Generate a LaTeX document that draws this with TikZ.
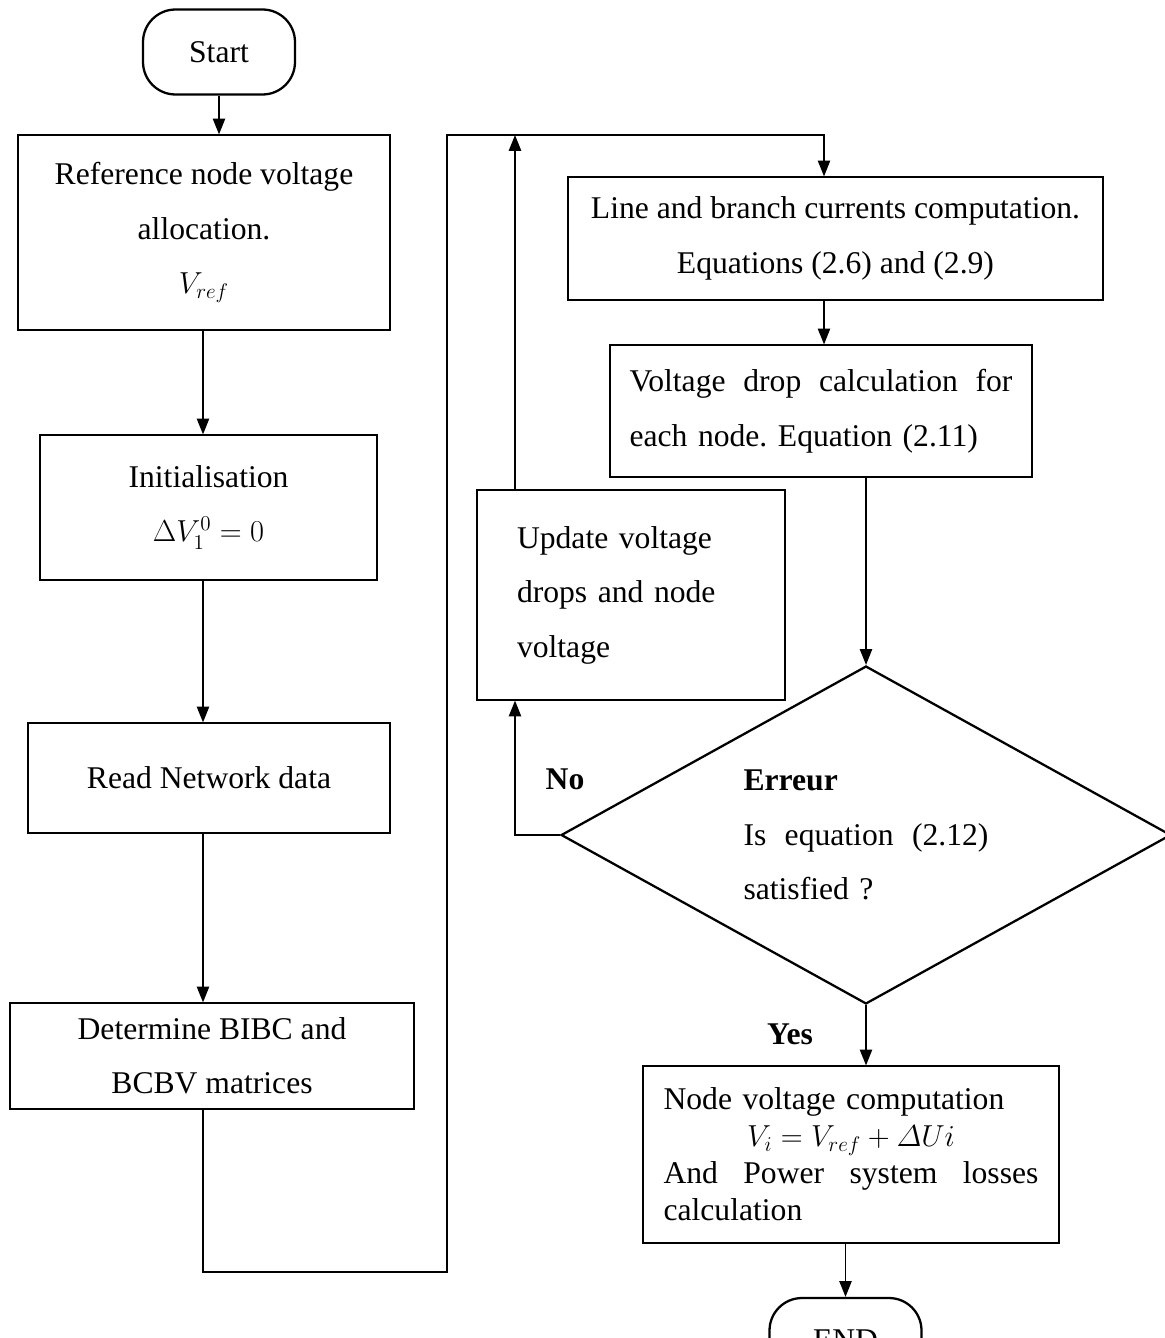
\documentclass[tikz,border=0pt]{standalone}
\usepackage{fontspec}
\setmainfont{Liberation Serif}
\usetikzlibrary{arrows.meta,shapes.geometric}
\frenchspacing

\tikzset{
  box/.style={draw, line width=0.7pt, inner sep=0pt, align=center, font=\fontsize{18}{31}\selectfont},
  term/.style={draw, line width=1.3pt, rounded corners=0.65cm, minimum width=3.04cm, minimum height=1.7cm, font=\fontsize{18}{22}\selectfont},
  decision/.style={draw, diamond, line width=1.3pt, aspect=1.8, inner sep=0pt, minimum width=12.2cm, minimum height=6.76cm, align=left, text width=4.9cm, font=\fontsize{18}{31}\selectfont},
  lbl/.style={font=\fontsize{18}{22}\selectfont\bfseries},
}

\begin{document}
\begin{tikzpicture}[x=0.02cm, y=-0.02cm, >={Triangle[length=9pt,width=7pt]}, line width=0.8pt]
    \useasboundingbox (0,0) rectangle (1165,1338);
    % left column
    \node[term] (start) at (219,52) {Start};
    \node[box, minimum width=7.44cm, minimum height=3.9cm] (refv) at (204,232.5) {Reference node voltage\\ allocation.\\ $V_{ref}$};
    \node[box, minimum width=6.74cm, minimum height=2.9cm] (init) at (208.5,507.5) {Initialisation\\ $\Delta V_1^0 = 0$};
    \node[box, minimum width=7.24cm, minimum height=2.2cm] (readdata) at (209,778) {Read Network data};
    \node[box, minimum width=8.08cm, minimum height=2.12cm] (bibc) at (212,1056) {Determine BIBC and\\ BCBV matrices};
    % right column
    \node[box, minimum width=10.7cm, minimum height=2.46cm] (currents) at (835.5,238.5) {Line and branch currents computation.\\ Equations (2.6) and (2.9)};
    \node[box, align=left, text width=7.66cm, minimum width=8.44cm, minimum height=2.64cm] (vdrop) at (821,411) {Voltage\hfill drop\hfill calculation\hfill for\\ each node. Equation (2.11)};
    \node[box, align=left, text width=4.56cm, minimum width=6.16cm, minimum height=4.2cm] (update) at (631,595) {Update voltage\\ drops and node\\ voltage};
    \node[decision] (check) at (866,835) {{\bfseries Erreur}\\ Is\hfill equation\hfill (2.12)\\ satisfied ?};
    \node[box, align=left, text width=7.5cm, minimum width=8.32cm, minimum height=3.54cm, font=\fontsize{18}{21}\selectfont] (nodev) at (851,1154.5) {Node voltage computation\\ \makebox[7.5cm]{$V_i = V_{ref} + \mathnormal{\Delta} Ui$}\\ And\hfill Power\hfill system\hfill losses\\ calculation};
    \node[term] (stop) at (845.5,1340.5) {END};
    \node[lbl] (no) at (565,779) {No};
    \node[lbl] (yes) at (790,1034) {Yes};
    % connectors
    \coordinate (lcol) at (203,0);
    \coordinate (vcol) at (824,0);
    \coordinate (ucol) at (515,0);
    \coordinate (lowc) at (447,1272);
    \coordinate (topc) at (447,135);
    \draw[->] (start.south) -- (start.south |- refv.north);
    \draw[->] (refv.south -| lcol) -- (init.north -| lcol);
    \draw[->] (init.south -| lcol) -- (readdata.north -| lcol);
    \draw[->] (readdata.south -| lcol) -- (bibc.north -| lcol);
    \draw[->] (bibc.south -| lcol) |- (lowc) -- (topc) -| (currents.north -| vcol);
    \draw[->] (currents.south -| vcol) -- (vdrop.north -| vcol);
    \draw[->] (vdrop.south -| check.north) -- (check.north);
    \draw[->] (check.west) -| (update.south -| ucol);
    \draw[->] (update.north -| ucol) -- (topc -| ucol);
    \draw[->] (check.south) -- (check.south |- nodev.north);
    \draw[->] (nodev.south -| stop.north) -- (stop.north);
\end{tikzpicture}
\end{document}
